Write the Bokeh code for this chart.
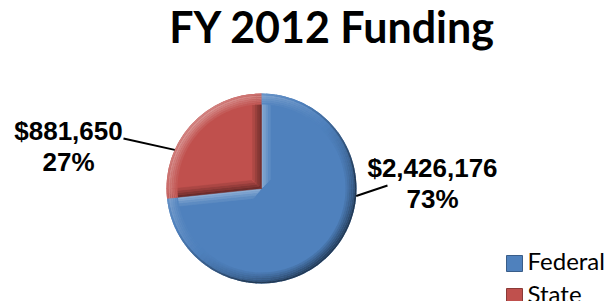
import math
from bokeh.plotting import figure
from bokeh.models import Range1d, ColumnDataSource
from bokeh.core.properties import value
from bokeh.embed import file_html
from bokeh.resources import INLINE

# ---- data ----
title_text = "FY 2012 Funding"
categories = ["Federal", "State"]
amounts = [2426176, 881650]
amount_labels = ["$2,426,176", "$881,650"]
pct_labels = ["73%", "27%"]
colors = ["#4F81BD", "#C0504D"]

# ---- layout (page pixel coordinates, y measured downward) ----
W, H = 616, 301
def X(px):
    return px
def Y(py):
    return H - py

# renderer draws "alphabetic" text slightly low; compensate (fraction of em)
BASE_FIX = 0.44

p = figure(width=W, height=H, output_backend="svg", toolbar_location=None,
           x_range=Range1d(0, W), y_range=Range1d(0, H),
           min_border=0, outline_line_color=None)
p.axis.visible = False
p.grid.visible = False
p.background_fill_color = "white"
p.border_fill_color = "white"

cx, cy, R = X(261), Y(188), 95.0
LIGHT = math.radians(135)

def mix(c, s):
    r, g, b = int(c[1:3], 16), int(c[3:5], 16), int(c[5:7], 16)
    if s >= 0:
        f = min(s, 1) * 0.45
        r, g, b = r + (255 - r) * f, g + (255 - g) * f, b + (255 - b) * f
    else:
        f = min(-s, 1) * 0.55
        r, g, b = r * (1 - f), g * (1 - f), b * (1 - f)
    return "#%02x%02x%02x" % (int(r), int(g), int(b))

total = float(sum(amounts))
# State slice goes counter-clockwise from 12 o'clock, Federal takes the rest
start = math.pi / 2
angles = {}
a = start
for cat, v in zip(reversed(categories), reversed(amounts)):
    sweep = 2 * math.pi * v / total
    angles[cat] = (a, a + sweep)
    a += sweep

# base wedges
for cat, col in zip(categories, colors):
    a0, a1 = angles[cat]
    p.wedge(x=[cx], y=[cy], radius=R, start_angle=[a0], end_angle=[a1],
            fill_color=col, line_color=None)

# bevel bands along straight edges
bw = 9.0
nb = 4
for cat, col in zip(categories, colors):
    a0, a1 = angles[cat]
    for ang, nsign in ((a0, -1), (a1, 1)):
        d = (math.cos(ang), math.sin(ang))
        nrm = ang + nsign * math.pi / 2
        m = (-math.cos(nrm), -math.sin(nrm))
        s = math.cos(nrm - LIGHT)
        xs, ys, fc = [], [], []
        for k in range(nb):
            o0, o1 = bw * k / nb, bw * (k + 1) / nb
            L = R - 2
            pts = [
                (cx + m[0] * o0 + d[0] * o0, cy + m[1] * o0 + d[1] * o0),
                (cx + m[0] * o1 + d[0] * o1, cy + m[1] * o1 + d[1] * o1),
                (cx + m[0] * o1 + d[0] * L, cy + m[1] * o1 + d[1] * L),
                (cx + m[0] * o0 + d[0] * L, cy + m[1] * o0 + d[1] * L),
            ]
            xs.append([q[0] for q in pts])
            ys.append([q[1] for q in pts])
            fc.append(mix(col, s * (1 - k / nb)))
        p.patches(xs=xs, ys=ys, fill_color=fc, line_color=fc, line_width=0.5)

# bevel rim
nr = 6
seg = math.radians(3)
for cat, col in zip(categories, colors):
    a0, a1 = angles[cat]
    n = max(1, int((a1 - a0) / seg))
    data = dict(ir=[], orr=[], sa=[], ea=[], fc=[])
    for j in range(n):
        t0 = a0 + (a1 - a0) * j / n
        t1 = a0 + (a1 - a0) * (j + 1) / n
        s = math.cos((t0 + t1) / 2 - LIGHT)
        for k in range(nr):
            r0 = R - 11 + 11 * k / nr
            r1 = R - 11 + 11 * (k + 1) / nr
            prof = (k + 1) / nr
            val = s * prof
            if k == nr - 1:
                val = val - 0.35
            data["ir"].append(r0)
            data["orr"].append(r1)
            data["sa"].append(t0)
            data["ea"].append(t1 + 0.004)
            data["fc"].append(mix(col, val))
    src = ColumnDataSource(data)
    p.annular_wedge(x=cx, y=cy, inner_radius="ir", outer_radius="orr",
                    start_angle="sa", end_angle="ea", fill_color="fc",
                    line_color=None, source=src)

# leader lines (anchor angle on the pie edge -> label end)
leaders = {"State": (math.radians(156), (X(123), Y(138))),
           "Federal": (math.radians(-4.5), (X(387), Y(185)))}
for cat in categories:
    ang, (lx, ly) = leaders[cat]
    p.line(x=[cx + R * math.cos(ang), lx], y=[cy + R * math.sin(ang), ly],
           line_color="black", line_width=2)

# data labels
LFS = 26
label_pos = {"Federal": (X(432), Y(179)), "State": (X(68), Y(142))}
for cat, amt, pct in zip(categories, amount_labels, pct_labels):
    lx, ly = label_pos[cat]
    ly += BASE_FIX * LFS
    p.text(x=[lx, lx], y=[ly, ly - 31], text=[amt, pct],
           text_font=value("Liberation Sans"), text_font_style="bold",
           text_font_size=f"{LFS}px", text_align="center",
           text_baseline="alphabetic", text_color="black")

# title
TFS = 43
p.text(x=[X(332)], y=[Y(45) + BASE_FIX * TFS], text=[title_text],
       text_font=value("Lato"), text_font_style="bold",
       text_font_size=f"{TFS}px", text_align="center",
       text_baseline="alphabetic", text_color="black")

# legend
GFS = 24
for i, (cat, col) in enumerate(zip(categories, colors)):
    ly = Y(263) - 33 * i
    p.rect(x=[X(514)], y=[ly], width=16, height=16, fill_color=col,
           line_color=mix(col, -0.5), line_width=1)
    p.text(x=[X(527)], y=[ly - 8 + BASE_FIX * GFS], text=[cat],
           text_font=value("Lato"), text_font_size=f"{GFS}px",
           text_align="left", text_baseline="alphabetic",
           text_color="black")

open("out.html", "w").write(file_html(p, INLINE))
